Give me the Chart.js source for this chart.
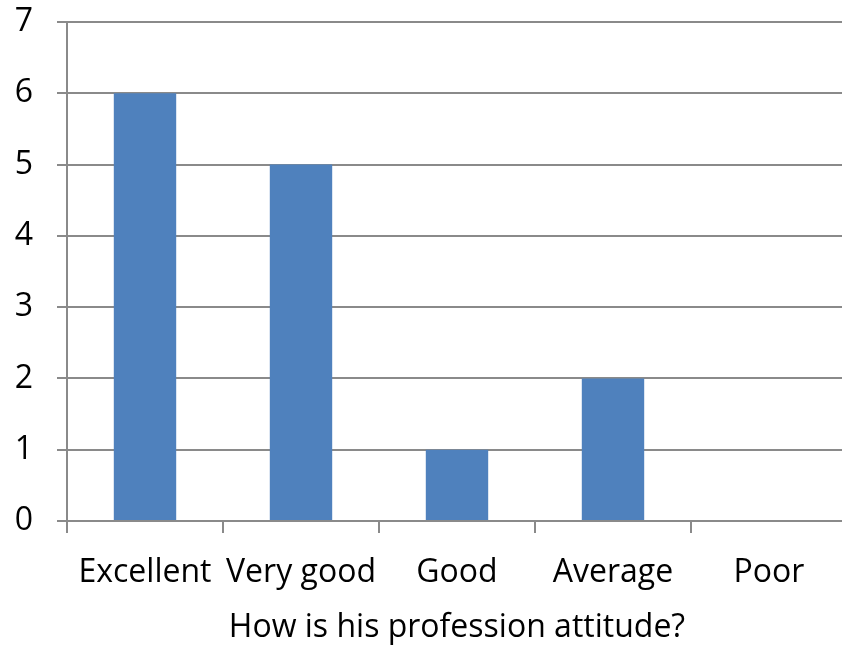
<!DOCTYPE html>
<html>
<head>
<meta charset="utf-8">
<script src="https://cdn.jsdelivr.net/npm/chart.js@4"></script>
<style>
  html, body { margin: 0; padding: 0; background: #fff; overflow: hidden; }
  #wrap { width: 842px; height: 647px; overflow: hidden; }
</style>
</head>
<body>
<div id="wrap"><canvas id="chart1" width="850" height="647"></canvas></div>
<script>
// categories and values
const categories = ['Excellent', 'Very good', 'Good', 'Average', 'Poor']
const counts = [6, 5, 1, 2, 0]
const yTicks = [0, 1, 2, 3, 4, 5, 6, 7]
const xTitle = 'How is his profession attitude?'

const gridGrey = '#8a8a8a'
const fontFamily = "'Open Sans', 'Liberation Sans', sans-serif"

const data = {
    labels: categories,
    datasets: [{
        data: counts,
        backgroundColor: '#4F81BD',
        barPercentage: 0.4,
        categoryPercentage: 1
    }]
}

const config = {
    type: 'bar',
    data: data,
    options: {
        responsive: false,
        animation: false,
        layout: { padding: { top: 22, right: 3, bottom: 0, left: 0 } },
        plugins: {
            legend: { display: false },
            tooltip: { enabled: false }
        },
        scales: {
            x: {
                grid: {
                    offset: true,
                    drawOnChartArea: false,
                    drawTicks: true,
                    tickLength: 12,
                    color: gridGrey,
                    lineWidth: 2
                },
                border: { color: gridGrey, width: 2 },
                ticks: {
                    color: '#000',
                    padding: 21,
                    maxRotation: 0,
                    font: { family: fontFamily, size: 32 }
                },
                title: {
                    display: true,
                    text: xTitle,
                    color: '#000',
                    padding: { top: 4, bottom: 0 },
                    font: { family: fontFamily, size: 32 }
                },
                afterFit: function(scale) {
                    scale.height = 126
                    scale.paddingLeft = 0
                    scale.paddingRight = 0
                }
            },
            y: {
                min: 0,
                max: 7,
                afterBuildTicks: function(scale) {
                    scale.ticks = yTicks.map(v => ({ value: v }))
                },
                grid: {
                    color: gridGrey,
                    lineWidth: 2,
                    tickLength: 10
                },
                border: { color: gridGrey, width: 2 },
                ticks: {
                    color: '#000',
                    padding: 24,
                    font: { family: fontFamily, size: 32 }
                },
                afterFit: function(scale) {
                    scale.width = 67
                    scale.paddingTop = 0
                    scale.paddingBottom = 0
                }
            }
        }
    }
}

const Chart1 = new Chart(document.getElementById('chart1'), config)
</script>
</body>
</html>
